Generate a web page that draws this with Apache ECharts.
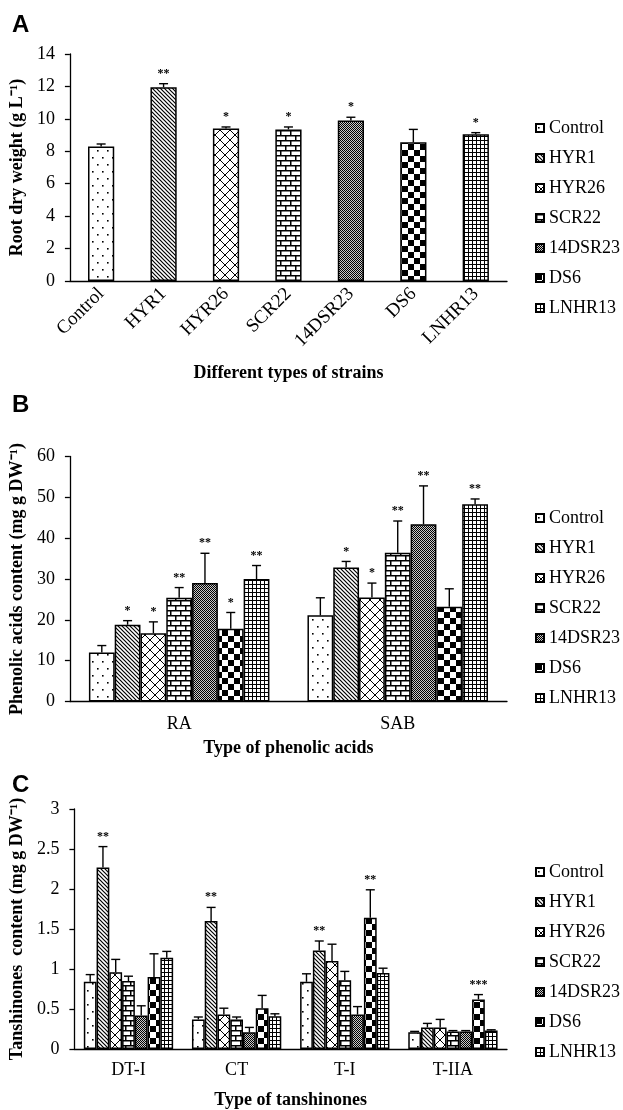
<!DOCTYPE html>
<html>
<head>
<meta charset="utf-8">
<script src="https://cdn.jsdelivr.net/npm/echarts@6/dist/echarts.min.js"></script>
<style>
html,body{margin:0;padding:0;background:#fff;}
#chart{width:623px;height:1110px;}
</style>
</head>
<body>
<div id="chart"></div>
<script>
// ---------- DATA ----------
const strains = ['Control','HYR1','HYR26','SCR22','14DSR23','DS6','LNHR13'];

// Panel A: root dry weight (g L-1), one value per strain
const rootMean = [8.3, 11.95, 9.4, 9.35, 9.9, 8.55, 9.05];
const rootErr  = [0.15, 0.22, 0.1, 0.15, 0.2, 0.8, 0.1];
const rootSig  = ['', '**', '*', '*', '*', '', '*'];
const rootTicks = [0, 14, 2];

// Panel B: phenolic acids (rows = categories, columns = strains)
const phenolicCats = ['RA','SAB'];
const phenolicMean = [
  [12.0, 18.8, 16.7, 25.4, 29.0, 17.8, 30.0],
  [21.1, 32.8, 25.5, 36.4, 43.4, 23.2, 48.3]
];
const phenolicErr = [
  [1.7, 1.0, 2.8, 2.5, 7.3, 4.0, 3.3],
  [4.3, 1.5, 3.5, 7.8, 9.4, 4.4, 1.3]
];
const phenolicSig = [
  ['', '*', '*', '**', '**', '*', '**'],
  ['', '*', '*', '**', '**', '', '**']
];
const phenolicTicks = [0, 60, 10];

// Panel C: tanshinones (rows = categories, columns = strains)
const tanshCats = ['DT-I','CT','T-I','T-IIA'];
const tanshMean = [
  [0.84, 2.27, 0.96, 0.85, 0.42, 0.90, 1.14],
  [0.37, 1.60, 0.43, 0.37, 0.21, 0.51, 0.41],
  [0.84, 1.23, 1.10, 0.86, 0.43, 1.64, 0.95],
  [0.21, 0.27, 0.27, 0.22, 0.22, 0.62, 0.23]
];
const tanshErr = [
  [0.09, 0.26, 0.16, 0.06, 0.12, 0.29, 0.08],
  [0.03, 0.17, 0.08, 0.03, 0.06, 0.16, 0.03],
  [0.10, 0.12, 0.21, 0.11, 0.10, 0.35, 0.06],
  [0.01, 0.05, 0.10, 0.01, 0.01, 0.06, 0.01]
];
const tanshSig = [
  ['', '**', '', '', '', '', ''],
  ['', '**', '', '', '', '', ''],
  ['', '**', '', '', '', '**', ''],
  ['', '', '', '', '', '***', '']
];
const tanshTicks = [0, 3, 0.5];

// ---------- PATTERNS ----------
function tile(w, h, draw) {
  const c = document.createElement('canvas');
  c.width = w; c.height = h;
  const g = c.getContext('2d');
  g.fillStyle = '#fff'; g.fillRect(0, 0, w, h);
  g.fillStyle = '#000'; g.strokeStyle = '#000';
  draw(g, w, h);
  return { image: c, repeat: 'repeat' };
}
const patterns = [
  // Control: sparse dots
  tile(10, 14, g => { g.fillRect(2, 3, 1.6, 1.6); g.fillRect(7, 10, 1.6, 1.6); }),
  // HYR1: dense diagonal lines "\"
  tile(4, 4, g => {
    g.lineWidth = 1.2;
    g.beginPath();
    g.moveTo(-1, -1); g.lineTo(5, 5);
    g.moveTo(-1, 3); g.lineTo(1, 5);
    g.moveTo(3, -1); g.lineTo(5, 1);
    g.stroke();
  }),
  // HYR26: diamond lattice
  tile(10, 10, g => {
    g.lineWidth = 1;
    g.beginPath();
    g.moveTo(0, 0); g.lineTo(10, 10);
    g.moveTo(10, 0); g.lineTo(0, 10);
    g.stroke();
  }),
  // SCR22: bricks
  tile(10, 10, g => {
    g.fillRect(0, 0, 10, 1.5); g.fillRect(0, 5, 10, 1.5);
    g.fillRect(0, 0, 1.5, 5); g.fillRect(5, 5, 1.5, 5);
  }),
  // 14DSR23: fine grey dither
  tile(2, 2, g => {
    g.fillStyle = '#c8c8c8'; g.fillRect(0, 0, 2, 2);
    g.fillStyle = '#000'; g.fillRect(0, 0, 1, 1); g.fillRect(1, 1, 1, 1);
  }),
  // DS6: large checkerboard
  tile(12, 12, g => { g.fillRect(0, 0, 6, 6); g.fillRect(6, 6, 6, 6); }),
  // LNHR13: small grid
  tile(4, 4, g => { g.fillRect(0, 0, 4, 1); g.fillRect(0, 0, 1, 4); })
];

// ---------- HELPERS ----------
const SERIF = 'Liberation Serif';
const BLACK = '#000';

function errRenderer(nBars, pct, sigTable) {
  return function (params, api) {
    const cat = api.value(0), si = api.value(1), m = api.value(2), e = api.value(3);
    const band = api.size([1, 0])[0];
    const bw = band * pct;
    const off = nBars > 1 ? (si - (nBars - 1) / 2) * bw : 0;
    const p0 = api.coord([cat, m]);
    const p1 = api.coord([cat, m + e]);
    const x = p0[0] + off;
    const half = 4.5;
    const sig = sigTable(cat, si);
    const children = [
      { type: 'line', shape: { x1: x, y1: p0[1], x2: x, y2: p1[1] }, style: { stroke: BLACK, lineWidth: 1.4 } },
      { type: 'line', shape: { x1: x - half, y1: p1[1], x2: x + half, y2: p1[1] }, style: { stroke: BLACK, lineWidth: 1.4 } }
    ];
    if (sig) {
      children.push({
        type: 'text',
        style: { text: sig, x: x, y: p1[1] - 10, align: 'center', verticalAlign: 'middle',
                 font: 'bold 12px ' + SERIF, fill: BLACK }
      });
    }
    return { type: 'group', children: children };
  };
}

function yAxisDef(grid, ticks, name) {
  return {
    type: 'value', gridIndex: grid, min: ticks[0], max: ticks[1], interval: ticks[2],
    splitLine: { show: false },
    axisLine: { show: true, lineStyle: { color: BLACK, width: 1.3 } },
    axisTick: { show: true, length: 5, lineStyle: { color: BLACK, width: 1.3 } },
    axisLabel: { color: BLACK, fontFamily: SERIF, fontSize: 18, margin: 15 },
    name: name, nameLocation: 'middle', nameGap: 42,
    nameTextStyle: { color: BLACK, fontFamily: SERIF, fontSize: 18, fontWeight: 'bold' }
  };
}

function xAxisDef(grid, cats, name, nameGap, labelOpt) {
  return {
    type: 'category', gridIndex: grid, data: cats,
    axisLine: { show: true, lineStyle: { color: BLACK, width: 1.3 } },
    axisTick: { show: false },
    axisLabel: Object.assign({ color: BLACK, fontFamily: SERIF, fontSize: 18, interval: 0 }, labelOpt),
    name: name, nameLocation: 'middle', nameGap: nameGap,
    nameTextStyle: { color: BLACK, fontFamily: SERIF, fontSize: 18, fontWeight: 'bold' }
  };
}

function legendDef(top) {
  return {
    orient: 'vertical', left: 535, top: top, padding: 0, data: strains, icon: 'rect',
    itemWidth: 8, itemHeight: 8, itemGap: 10, selectedMode: false,
    textStyle: { color: BLACK, fontFamily: SERIF, fontSize: 18, lineHeight: 20 }
  };
}

// ---------- SERIES ----------
const series = [];
const barStyle = i => ({ color: patterns[i], borderColor: BLACK, borderWidth: 1.5 });

// Panel A
strains.forEach((s, i) => {
  series.push({
    type: 'bar', name: s, xAxisIndex: 0, yAxisIndex: 0,
    data: strains.map((_, j) => (j === i ? rootMean[i] : null)),
    barWidth: '42%', barGap: '-100%', itemStyle: barStyle(i)
  });
});
series.push({
  type: 'custom', xAxisIndex: 0, yAxisIndex: 0, z: 10, clip: false,
  encode: { x: 0, y: 2 },
  data: strains.map((_, i) => [i, 0, rootMean[i], rootErr[i]]),
  renderItem: errRenderer(1, 0.42, (c) => rootSig[c])
});

// Panel B
strains.forEach((s, i) => {
  series.push({
    type: 'bar', name: s, xAxisIndex: 1, yAxisIndex: 1,
    data: phenolicCats.map((_, j) => phenolicMean[j][i]),
    barWidth: '11.8%', barGap: '0%', itemStyle: barStyle(i)
  });
});
const bErr = [];
phenolicCats.forEach((_, j) => strains.forEach((_, i) => bErr.push([j, i, phenolicMean[j][i], phenolicErr[j][i]])));
series.push({
  type: 'custom', xAxisIndex: 1, yAxisIndex: 1, z: 10, clip: false,
  encode: { x: 0, y: 2 }, data: bErr,
  renderItem: errRenderer(7, 0.118, (c, i) => phenolicSig[c][i])
});

// Panel C
strains.forEach((s, i) => {
  series.push({
    type: 'bar', name: s, xAxisIndex: 2, yAxisIndex: 2,
    data: tanshCats.map((_, j) => tanshMean[j][i]),
    barWidth: '11.8%', barGap: '0%', itemStyle: barStyle(i)
  });
});
const cErr = [];
tanshCats.forEach((_, j) => strains.forEach((_, i) => cErr.push([j, i, tanshMean[j][i], tanshErr[j][i]])));
series.push({
  type: 'custom', xAxisIndex: 2, yAxisIndex: 2, z: 10, clip: false,
  encode: { x: 0, y: 2 }, data: cErr,
  renderItem: errRenderer(7, 0.118, (c, i) => tanshSig[c][i])
});

// ---------- OPTION ----------
const chart = echarts.init(document.getElementById('chart'), null, { renderer: 'canvas' });
chart.setOption({
  animation: false,
  backgroundColor: '#fff',
  grid: [
    { left: 69, top: 54, width: 438, height: 227 },
    { left: 69, top: 456.5, width: 438, height: 245 },
    { left: 69, top: 809, width: 438, height: 244 }
  ],
  xAxis: [
    xAxisDef(0, strains, 'Different types of strains', 83, { rotate: 45, margin: 10, fontSize: 19 }),
    xAxisDef(1, phenolicCats, 'Type of phenolic acids', 38, { margin: 14 }),
    xAxisDef(2, tanshCats, 'Type of tanshinones', 42, { margin: 12 })
  ],
  yAxis: [
    yAxisDef(0, rootTicks, 'Root dry weight (g L\u207B\u00B9)'),
    yAxisDef(1, phenolicTicks, 'Phenolic acids content (mg g DW\u207B\u00B9)'),
    yAxisDef(2, tanshTicks, 'Tanshinones  content (mg g DW\u207B\u00B9)')
  ],
  legend: [legendDef(118), legendDef(508), legendDef(862)],
  graphic: [
    { type: 'text', left: 12, top: 13, style: { text: 'A', font: 'bold 24px "Liberation Sans"', fill: BLACK } },
    { type: 'text', left: 12, top: 393, style: { text: 'B', font: 'bold 24px "Liberation Sans"', fill: BLACK } },
    { type: 'text', left: 12, top: 773, style: { text: 'C', font: 'bold 24px "Liberation Sans"', fill: BLACK } }
  ],
  series: series
});
</script>
</body>
</html>
